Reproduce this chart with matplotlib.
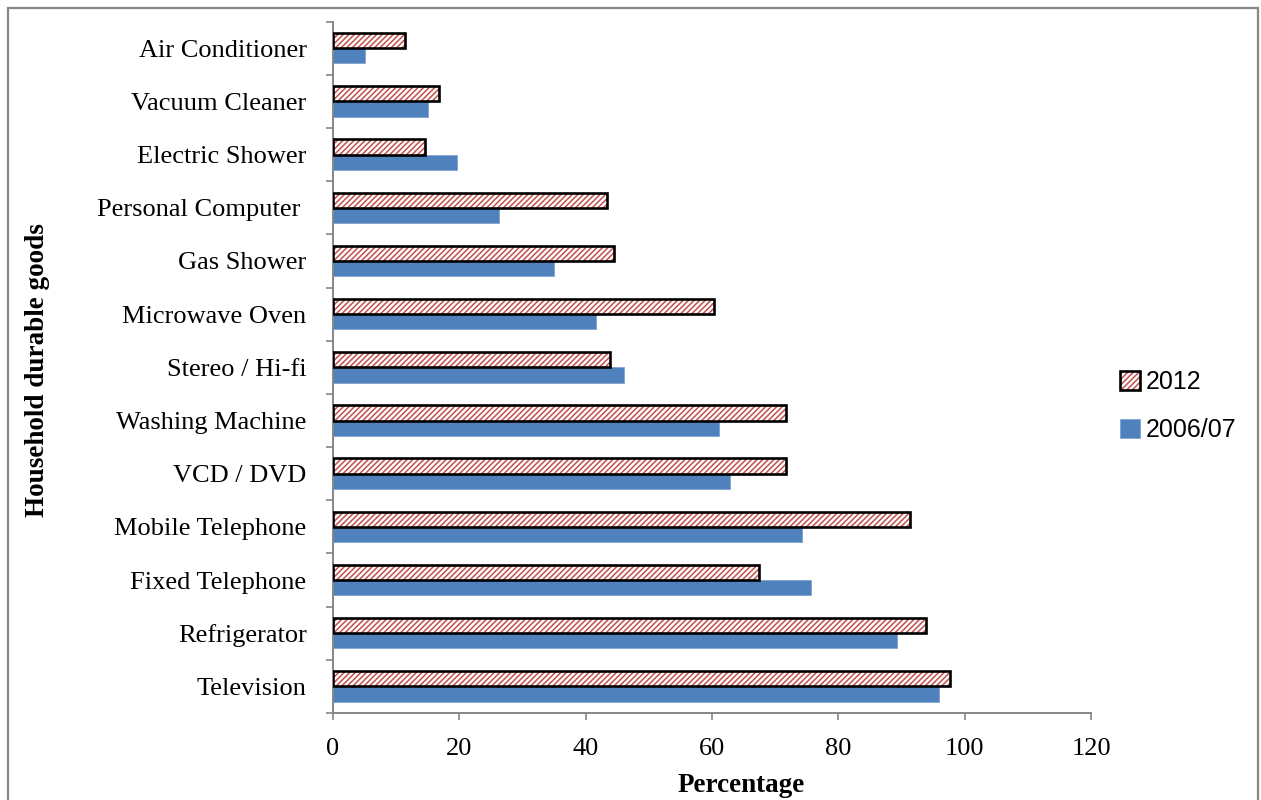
import matplotlib
matplotlib.use("Agg")
import matplotlib.pyplot as plt
from matplotlib.patches import Rectangle
from matplotlib.legend_handler import HandlerTuple
import numpy as np

# Household durable goods ownership (percentage of households)
goods = ["Television", "Refrigerator", "Fixed Telephone", "Mobile Telephone",
         "VCD / DVD", "Washing Machine", "Stereo / Hi-fi", "Microwave Oven",
         "Gas Shower", "Personal Computer ", "Electric Shower",
         "Vacuum Cleaner", "Air Conditioner"]
pct_2012 = [97.6, 93.9, 67.4, 91.3, 71.7, 71.7, 43.9, 60.3, 44.5, 43.4,
            14.5, 16.8, 11.4]
pct_2006 = [96.0, 89.3, 75.7, 74.3, 62.8, 61.1, 46.0, 41.7, 35.0, 26.3,
            19.6, 15.0, 5.0]
x_ticks = [0, 20, 40, 60, 80, 100, 120]

plt.rcParams["hatch.linewidth"] = 1.1

W, H = 1261, 800
fig = plt.figure(figsize=(W / 100, H / 100), dpi=100)
fig.patch.set_facecolor("white")

ax = fig.add_axes([333 / W, 1 - 713 / H, (1091 - 333) / W, (713 - 21.7) / H])

serif = "Liberation Serif"
blue = "#4F81BD"
red = "#C0504D"
gray = "#868686"

y = np.arange(len(goods))
h = 0.286
off = 0.143

# 2012: red diagonal hatch on white with a heavy black outline
hatch_bars = ax.barh(y + off, pct_2012, height=h, color="white",
                     edgecolor=red, hatch="//////", linewidth=0, zorder=2)
outline_bars = ax.barh(y + off, pct_2012, height=h, facecolor="none",
                       edgecolor="black", linewidth=1.9, zorder=3)
# 2006/07: solid blue
blue_bars = ax.barh(y - off, pct_2006, height=h, color=blue,
                    edgecolor="#7FA3D1", linewidth=0.6, zorder=2)

ax.set_xlim(0, 120)
ax.set_ylim(-0.5, len(goods) - 0.5)
ax.set_xticks(x_ticks)
ax.set_xticklabels([str(v) for v in x_ticks], fontfamily=serif, fontsize=19)
ax.set_yticks(y)
ax.set_yticklabels(goods, fontfamily=serif, fontsize=19)
ax.set_yticks(np.arange(-0.5, len(goods)), minor=True)

ax.tick_params(axis="y", which="major", length=0, pad=19)
ax.tick_params(axis="y", which="minor", length=5, width=1.2, color=gray,
               direction="out")
ax.tick_params(axis="x", which="major", length=5, width=1.2, color=gray,
               direction="out", pad=13)

for side in ("top", "right"):
    ax.spines[side].set_visible(False)
for side in ("left", "bottom"):
    ax.spines[side].set_color(gray)
    ax.spines[side].set_linewidth(1.4)

fig.text(741 / W, 1 - 785 / H, "Percentage", fontfamily=serif,
         fontweight="bold", fontsize=19.5, ha="center", va="center")
fig.text(38 / W, 1 - 370 / H, "Household durable goods", fontfamily=serif,
         fontweight="bold", fontsize=19.5, rotation=90, ha="center",
         va="center")

leg = ax.legend([(hatch_bars[0], outline_bars[0]), blue_bars[0]],
                ["2012", "2006/07"],
                handler_map={tuple: HandlerTuple(ndivide=1, pad=0)},
                loc="center left", bbox_to_anchor=(1097 / W, 1 - 406 / H),
                bbox_transform=fig.transFigure, frameon=False,
                prop={"family": "Liberation Sans", "size": 18},
                handlelength=0.8, handleheight=0.8, handletextpad=0.25,
                labelspacing=0.95)

# outer chart border
fig.patches.append(Rectangle((8 / W, -0.05), (1258 - 8) / W, 1.05 - 8 / H,
                             transform=fig.transFigure, fill=False,
                             edgecolor="#878787", linewidth=1.6, zorder=0))

fig.savefig("out.png", dpi=100)
